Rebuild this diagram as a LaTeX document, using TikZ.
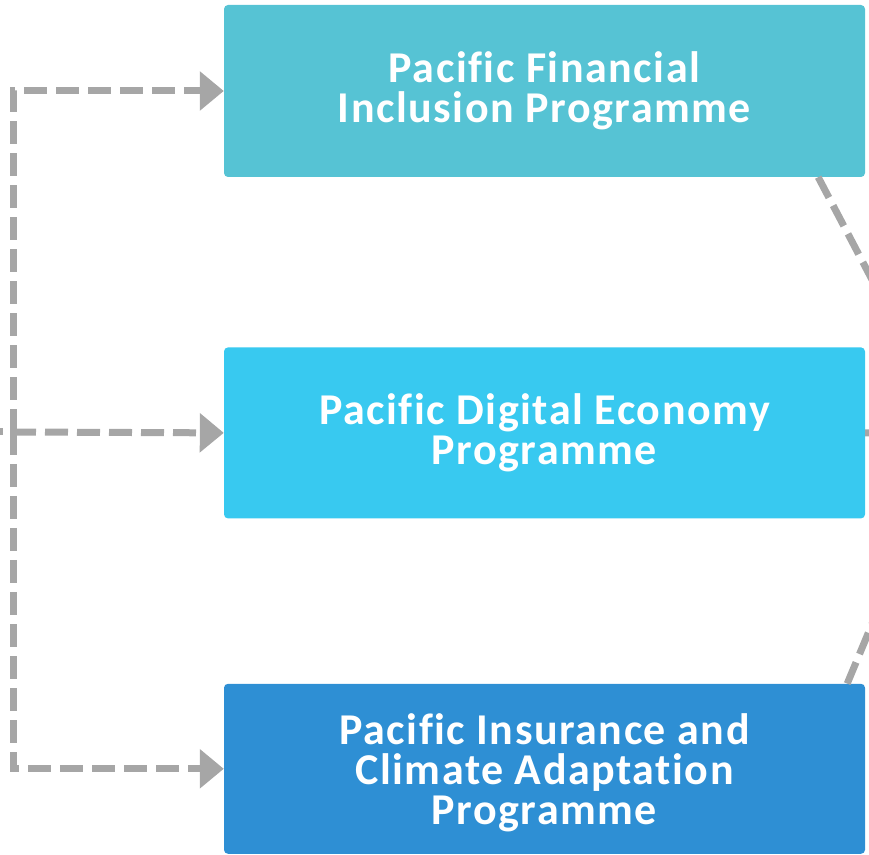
\documentclass[tikz,border=0pt]{standalone}
\usepackage{fontspec}
\setmainfont[Ligatures=CommonOff]{Carlito}
\usepackage{tikz}
\usetikzlibrary{positioning,arrows.meta,calc}
\definecolor{finteal}{HTML}{56C3D4}
\definecolor{digitalblue}{HTML}{38C9F0}
\definecolor{climateblue}{HTML}{2E8FD4}
\definecolor{linkgray}{HTML}{A6A6A6}
\newfontfamily\boxfont[Ligatures=CommonOff, LetterSpace=3.5]{Carlito}

\begin{document}
\begin{tikzpicture}[x=1pt, y=1pt]
    % Define styles
    \tikzstyle{programme} = [rectangle, rounded corners=4pt, minimum width=641pt, minimum height=171pt, align=center, text=white, font=\boxfont\fontsize{44}{40}\selectfont\bfseries, inner sep=0pt]
    \tikzstyle{link} = [draw=linkgray, line width=7pt, dash pattern=on 23pt off 9pt]
    \tikzstyle{linkarrow} = [link, -{Triangle[length=24pt, width=38pt]}]

    \useasboundingbox (0,0) rectangle (869,854);
    \clip (0,0) rectangle (869,854);

    % Programmes
    \node [programme, fill=finteal, minimum height=172pt] (fip) at (544.5,763) {Pacific Financial\\Inclusion Programme};
    \node [programme, fill=digitalblue, below=170pt of fip] (pde) {Pacific Digital Economy\\Programme};
    \node [programme, fill=climateblue, below=165pt of pde, minimum height=170pt, text depth=-6pt] (pic) {Pacific Insurance and\\Climate Adaptation\\Programme};

    % Ends of the links outside the frame
    \coordinate (source) at (-20,422);
    \coordinate (rail) at (13,422);
    \coordinate (target) at (952,422);

    % Arrows from the left
    \draw [link] (source) -- (rail);
    \draw [linkarrow] (rail) |- (fip.west);
    \draw [linkarrow] (rail) -- (pde.west);
    \draw [linkarrow] (rail) |- (pic.west);

    % Links to the right
    \draw [link] ($(fip.south east)+(-47,0)$) -- (target);
    \draw [link] (pde.east) -- (target);
    \draw [link] ($(pic.north east)+(-18,0)$) -- (target);
\end{tikzpicture}
\end{document}
